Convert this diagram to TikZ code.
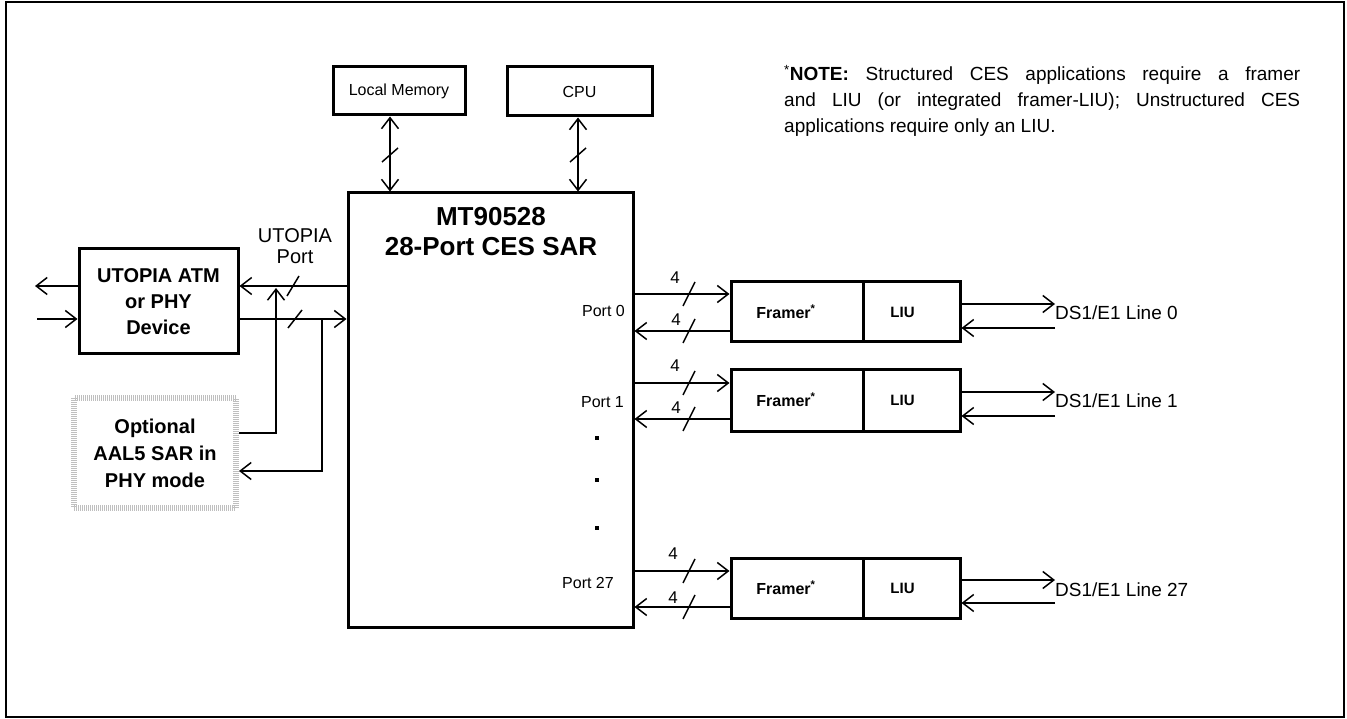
\documentclass[tikz,border=0pt]{standalone}
\usepackage{fontspec}
\setmainfont{Liberation Sans}
\usetikzlibrary{arrows.meta}
\begin{document}
\begin{tikzpicture}[x=1pt,y=-1pt,
  box/.style={draw, line width=3pt, inner sep=0pt, align=center},
  optbox/.style={draw=gray!50, line width=6pt, dash pattern=on 1pt off 1pt, inner sep=0pt, align=center},
  conn/.style={line width=2pt},
  tip/.style={conn, -{Straight Barb[length=11pt,width=17pt,line width=1.5pt]}},
  dtip/.style={conn, {Straight Barb[length=11pt,width=17pt,line width=1.5pt]}-{Straight Barb[length=11pt,width=17pt,line width=1.5pt]}},
  slashmark/.style={line width=1.5pt},
  small/.style={font=\fontsize{16}{19}\selectfont, inner sep=0pt},
  four/.style={font=\fontsize{17}{19}\selectfont, inner sep=0pt},
  dsl/.style={font=\fontsize{19}{22}\selectfont, inner sep=0pt, anchor=west},
  dotsq/.style={fill=black, minimum size=4.5pt, inner sep=0pt},
  fr/.style={box, minimum width=132pt, font=\bfseries\fontsize{16}{19}\selectfont},
  liu/.style={box, minimum width=97pt, font=\bfseries\fontsize{15}{18}\selectfont}
]
\useasboundingbox (0,0) rectangle (1347,719);
\draw[line width=2pt] (6,2) rectangle (1344,717);

% top boxes
\node[box, minimum width=132pt, minimum height=48pt, font=\fontsize{16}{19}\selectfont] (lm) at (399,91) {Local Memory};
\node[box, minimum width=145pt, minimum height=49pt, font=\fontsize{16}{19}\selectfont] (cpu) at (579.5,91.5) {CPU};

% SAR
\node[box, minimum width=285pt, minimum height=434pt] (sar) at (490.5,410) {};
\node[font=\bfseries\fontsize{26}{30}\selectfont, align=center, inner sep=0pt] (sartitle) at (491,232) {MT90528\\28-Port CES SAR};

% memory / cpu buses
\draw[dtip] (lm.south -| 390,0) -- (sar.north -| 390,0);
\draw[slashmark] (390,155) +(-8,7) -- +(8,-7);
\draw[dtip] (cpu.south -| 578,0) -- (sar.north -| 578,0);
\draw[slashmark] (578,155) +(-8,7) -- +(8,-7);

% UTOPIA device
\node[box, minimum width=159pt, minimum height=105pt, font=\bfseries\fontsize{20}{26}\selectfont] (utop) at (158.5,301.5) {UTOPIA ATM\\or PHY\\Device};
\node[font=\fontsize{20}{21}\selectfont, align=center, inner sep=0pt] (uport) at (295,246) {UTOPIA\\Port};
\node[optbox, minimum width=162pt, minimum height=110pt, font=\bfseries\fontsize{20}{27}\selectfont] (opt) at (155,453) {Optional\\AAL5 SAR in\\PHY mode};

\coordinate (lout) at (35,286);
\coordinate (lin) at (37,319);
\draw[tip] (utop.west |- 0,286) -- (lout);
\draw[tip] (lin) -- (utop.west |- 0,319);
\draw[tip] (sar.west |- 0,286) -- (utop.east |- 0,286);
\draw[tip] (utop.east |- 0,319) -- (sar.west |- 0,319);
\draw[slashmark] (293,286) +(-6,10) -- +(6,-10);
\draw[slashmark] (295,319) +(-7,9) -- +(7,-9);
\coordinate (ja) at (276,288);
\coordinate (jb) at (322,319);
\draw[tip] (opt.east |- 0,433) -| (ja);
\draw[tip] (jb) |- (opt.east |- 0,471);

% ports
\node[small, anchor=east] (p0) at (625,311) {Port 0};
\node[small, anchor=east] (p1) at (624,402) {Port 1};
\node[small] (p27) at (588,583) {Port 27};
\node[dotsq] (d1) at (597,438) {};
\node[dotsq] (d2) at (597,480) {};
\node[dotsq] (d3) at (597,528) {};

% framers
\node[fr, minimum height=60pt] (f0) at (797,312) {\hspace*{-22pt}Framer\textsuperscript{*}};
\node[liu, minimum height=60pt] (l0) at (911.5,312) {\hspace*{-18pt}LIU};
\node[fr, minimum height=62pt] (f1) at (797,400) {\hspace*{-22pt}Framer\textsuperscript{*}};
\node[liu, minimum height=62pt] (l1) at (911.5,400) {\hspace*{-18pt}LIU};
\node[fr, minimum height=60pt] (f27) at (797,588) {\hspace*{-22pt}Framer\textsuperscript{*}};
\node[liu, minimum height=60pt] (l27) at (911.5,588) {\hspace*{-18pt}LIU};

% port buses
\draw[tip] (sar.east |- 0,294) -- (f0.west |- 0,294);
\draw[tip] (f0.west |- 0,331) -- (sar.east |- 0,331);
\draw[tip] (sar.east |- 0,383) -- (f1.west |- 0,383);
\draw[tip] (f1.west |- 0,419) -- (sar.east |- 0,419);
\draw[tip] (sar.east |- 0,571) -- (f27.west |- 0,571);
\draw[tip] (f27.west |- 0,607) -- (sar.east |- 0,607);
\foreach \y in {294,331,383,419,571,607}
  \draw[slashmark] (689,\y) +(-6,12) -- +(6,-12);
\node[four] (n0a) at (675,278) {4};
\node[four] (n0b) at (676,320) {4};
\node[four] (n1a) at (675,366) {4};
\node[four] (n1b) at (676,408) {4};
\node[four] (n27a) at (673,554) {4};
\node[four] (n27b) at (673,598) {4};

% lines
\node[dsl] (ds0) at (1055,313) {DS1/E1 Line 0};
\node[dsl] (ds1) at (1055,401) {DS1/E1 Line 1};
\node[dsl] (ds27) at (1055,590) {DS1/E1 Line 27};
\draw[tip] (l0.east |- 0,304) -- (ds0.west |- 0,304);
\draw[tip] (ds0.west |- 0,328) -- (l0.east |- 0,328);
\draw[tip] (l1.east |- 0,392) -- (ds1.west |- 0,392);
\draw[tip] (ds1.west |- 0,416) -- (l1.east |- 0,416);
\draw[tip] (l27.east |- 0,580) -- (ds27.west |- 0,580);
\draw[tip] (ds27.west |- 0,603) -- (l27.east |- 0,603);

% note
\node[anchor=north west, inner sep=0pt, text width=516pt, align=justify, font=\fontsize{19}{26}\selectfont] (note) at (784,65) {\textsuperscript{*}\textbf{NOTE:} Structured CES applications require a framer\linebreak and LIU (or integrated framer-LIU); Unstructured CES\linebreak applications require only an LIU.};
\end{tikzpicture}
\end{document}
